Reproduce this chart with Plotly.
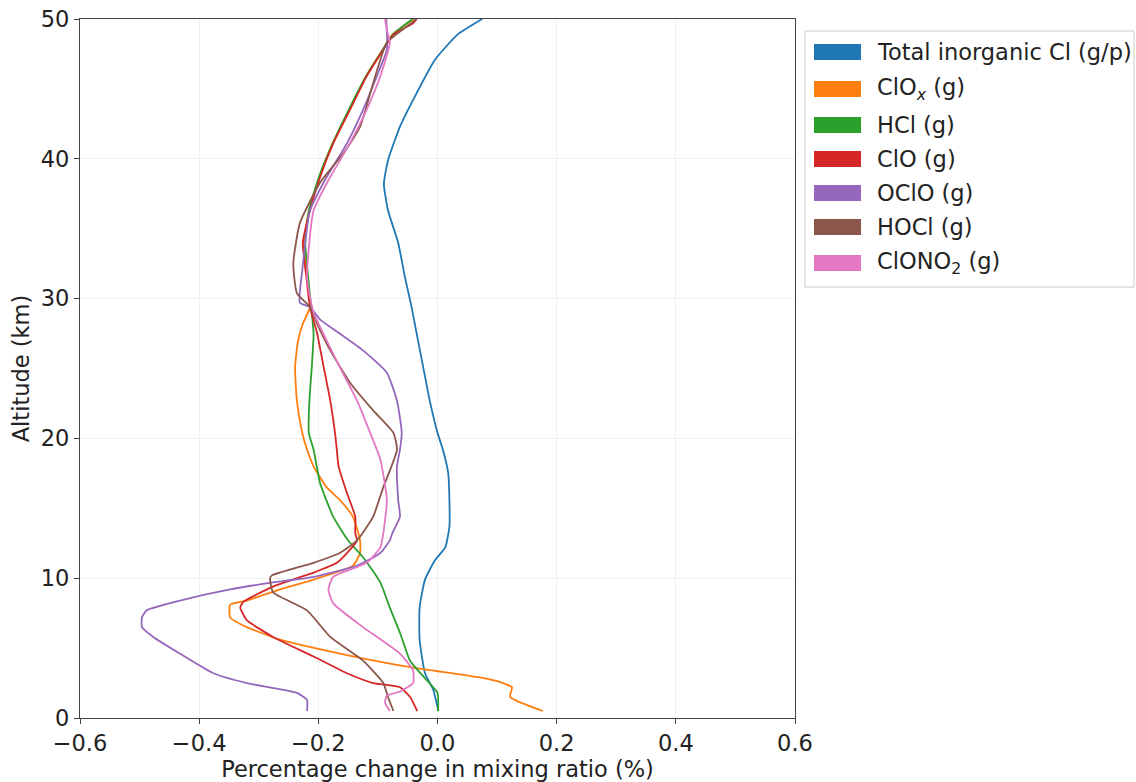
import plotly.graph_objects as go

# ---- data (percentage change, altitude km) ----
tot_alt = [0.5, 0.6, 2.0, 3.2, 5.6, 7.9, 9.9, 11.3, 12.2, 13.7, 15.6, 17.5, 19.2, 20.4, 22.7, 25.1, 27.5, 29.5, 31.6, 34.0, 36.3, 38.2, 39.9, 42.3, 44.7, 47.1, 48.9, 50.0]
tot_x   = [0.002, 0.001, -0.007, -0.021, -0.03, -0.03, -0.021, -0.004, 0.013, 0.02, 0.02, 0.018, 0.009, 0.0, -0.013, -0.024, -0.035, -0.044, -0.055, -0.066, -0.083, -0.09, -0.083, -0.063, -0.035, -0.004, 0.034, 0.075]

clox_alt = [0.5, 1.5, 2.2, 2.5, 2.9, 3.6, 4.5, 5.6, 6.5, 7.2, 8.1, 8.4, 9.2, 9.9, 10.9, 11.8, 12.7, 14.4, 15.6, 16.5, 18.0, 19.2, 20.4, 22.7, 25.1, 27.0, 28.2, 29.4, 31.5, 34.0, 36.3, 38.7, 41.1, 43.5, 45.9, 47.8, 48.9, 50.0]
clox_x   = [0.177, 0.122, 0.125, 0.11, 0.071, -0.041, -0.152, -0.264, -0.32, -0.348, -0.348, -0.32, -0.264, -0.208, -0.142, -0.13, -0.13, -0.142, -0.164, -0.186, -0.208, -0.219, -0.227, -0.236, -0.239, -0.234, -0.226, -0.214, -0.218, -0.225, -0.215, -0.198, -0.176, -0.148, -0.12, -0.092, -0.075, -0.04]

hcl_alt = [0.5, 1.8, 2.7, 4.1, 6.1, 7.9, 9.7, 11.5, 12.7, 14.4, 16.8, 19.2, 20.4, 22.7, 25.1, 27.5, 29.4, 31.5, 34.0, 36.3, 38.7, 41.1, 43.5, 45.9, 47.8, 48.9, 50.0]
hcl_x   = [0.001, 0.0, -0.018, -0.046, -0.063, -0.08, -0.096, -0.125, -0.15, -0.175, -0.197, -0.208, -0.216, -0.215, -0.211, -0.208, -0.212, -0.217, -0.222, -0.216, -0.199, -0.176, -0.149, -0.12, -0.092, -0.075, -0.042]

clo_alt = [0.5, 1.5, 2.2, 2.5, 3.2, 4.4, 5.8, 7.0, 7.9, 8.3, 9.4, 10.4, 11.1, 11.8, 12.7, 13.2, 14.4, 16.1, 18.0, 19.2, 20.4, 22.7, 25.1, 27.5, 29.4, 31.5, 34.0, 36.3, 38.7, 41.1, 43.5, 45.9, 47.8, 48.9, 49.7, 50.0]
clo_x   = [-0.034, -0.046, -0.063, -0.108, -0.152, -0.208, -0.276, -0.32, -0.331, -0.326, -0.276, -0.208, -0.169, -0.152, -0.135, -0.138, -0.138, -0.152, -0.166, -0.169, -0.172, -0.18, -0.191, -0.202, -0.214, -0.22, -0.226, -0.214, -0.197, -0.175, -0.147, -0.119, -0.091, -0.074, -0.041, -0.035]

oclo_alt = [0.5, 1.3, 1.8, 2.5, 3.2, 4.6, 5.8, 6.5, 7.2, 7.7, 8.4, 9.2, 9.7, 10.1, 10.9, 11.8, 12.7, 13.2, 14.4, 15.6, 18.0, 19.2, 20.4, 22.7, 24.7, 26.3, 27.5, 28.5, 29.4, 29.7, 32.0, 36.3, 38.7, 41.1, 43.5, 45.9, 47.8, 50.0]
oclo_x   = [-0.219, -0.219, -0.236, -0.32, -0.376, -0.432, -0.477, -0.496, -0.496, -0.488, -0.432, -0.348, -0.276, -0.208, -0.135, -0.096, -0.08, -0.076, -0.063, -0.066, -0.068, -0.063, -0.06, -0.068, -0.085, -0.125, -0.164, -0.197, -0.214, -0.231, -0.227, -0.214, -0.186, -0.152, -0.125, -0.102, -0.085, -0.086]

hocl_alt = [0.5, 1.5, 2.5, 4.1, 5.8, 7.7, 9.0, 10.0, 10.2, 11.1, 11.8, 12.7, 14.4, 16.5, 19.2, 20.4, 22.0, 24.0, 26.3, 28.2, 29.4, 30.4, 32.5, 35.4, 38.3, 40.4, 42.3, 45.4, 48.3, 49.8, 50.0]
hocl_x   = [-0.074, -0.083, -0.091, -0.125, -0.18, -0.219, -0.276, -0.281, -0.278, -0.208, -0.164, -0.135, -0.108, -0.091, -0.068, -0.074, -0.108, -0.147, -0.18, -0.202, -0.214, -0.236, -0.242, -0.231, -0.197, -0.158, -0.13, -0.108, -0.085, -0.041, -0.036]

clono2_alt = [0.5, 1.1, 1.6, 1.9, 2.5, 3.4, 4.6, 6.5, 8.2, 9.2, 10.1, 11.1, 12.2, 13.2, 15.6, 18.5, 20.4, 22.7, 25.1, 27.0, 29.0, 31.5, 36.3, 38.7, 41.1, 43.5, 45.9, 48.3, 49.2, 50.0]
clono2_x   = [-0.08, -0.088, -0.085, -0.063, -0.041, -0.041, -0.063, -0.125, -0.175, -0.183, -0.175, -0.119, -0.096, -0.091, -0.085, -0.096, -0.113, -0.135, -0.164, -0.186, -0.208, -0.219, -0.208, -0.18, -0.147, -0.119, -0.096, -0.08, -0.085, -0.088]

names = ["Total inorganic Cl (g/p)", "ClO<sub><i>x</i></sub> (g)", "HCl (g)", "ClO (g)",
         "OClO (g)", "HOCl (g)", "ClONO<sub>2</sub> (g)"]
colors = ["#1f77b4", "#ff7f0e", "#2ca02c", "#d62728", "#9467bd", "#8c564b", "#e377c2"]
series = [(tot_x, tot_alt), (clox_x, clox_alt), (hcl_x, hcl_alt), (clo_x, clo_alt),
          (oclo_x, oclo_alt), (hocl_x, hocl_alt), (clono2_x, clono2_alt)]

FONT = "DejaVu Sans"
FS = 22.5
TXT = "#222222"
fig = go.Figure()
for (xs, ys), nm, c in zip(series, names, colors):
    fig.add_trace(go.Scatter(x=xs, y=ys, mode="lines", name=nm,
                             line=dict(color=c, width=1.8, shape="spline", smoothing=0.5),
                             showlegend=False))

# plot area geometry in pixels
L, R, T, B = 80, 795, 19, 718
W, H = R - L, B - T
def px(xp): return (xp - L) / W
def py(yp): return (B - yp) / H

shapes = []
annotations = []
# legend box
shapes.append(dict(type="rect", xref="paper", yref="paper",
                   x0=px(805), x1=px(1134), y0=py(287), y1=py(31),
                   line=dict(color="#cccccc", width=1), fillcolor="white", layer="above"))
row_y = [52, 89, 125, 159, 193, 227, 263]
for yc, nm, c in zip(row_y, names, colors):
    shapes.append(dict(type="rect", xref="paper", yref="paper",
                       x0=px(814), x1=px(861), y0=py(yc + 8), y1=py(yc - 8),
                       line=dict(width=0), fillcolor=c, layer="above"))
    annotations.append(dict(xref="paper", yref="paper", x=px(875), y=py(yc),
                            text=nm, showarrow=False, xanchor="left", yanchor="middle",
                            font=dict(family=FONT, size=FS, color=TXT)))

fig.update_layout(
    width=1136, height=782,
    margin=dict(l=L, r=1136 - R, t=T, b=782 - B, autoexpand=False),
    paper_bgcolor="white", plot_bgcolor="white",
    font=dict(family=FONT, size=FS, color=TXT),
    shapes=shapes, annotations=annotations, showlegend=False,
)
fig.update_xaxes(range=[-0.6, 0.6], tickvals=[-0.6, -0.4, -0.2, 0.0, 0.2, 0.4, 0.6],
                 ticktext=["\u22120.6", "\u22120.4", "\u22120.2", "0.0", "0.2", "0.4", "0.6"],
                 tickfont=dict(family=FONT, size=FS, color=TXT), automargin=False,
                 showgrid=True, gridcolor="#f0f0f0", gridwidth=1, zeroline=False,
                 showline=True, linecolor="#444444", linewidth=1.2, mirror=True,
                 ticks="outside", ticklen=5, tickcolor="#444444",
                 title=dict(text="Percentage change in mixing ratio (%)", standoff=2,
                            font=dict(family=FONT, size=FS, color=TXT)))
fig.update_yaxes(range=[0, 50], tickvals=[0, 10, 20, 30, 40, 50],
                 tickfont=dict(family=FONT, size=FS, color=TXT), automargin=False,
                 showgrid=True, gridcolor="#f0f0f0", gridwidth=1, zeroline=False,
                 showline=True, linecolor="#444444", linewidth=1.2, mirror=True,
                 ticks="outside", ticklen=5, tickcolor="#444444",
                 title=dict(text="Altitude (km)", standoff=4,
                            font=dict(family=FONT, size=FS, color=TXT)))

fig.write_html("out.html")
